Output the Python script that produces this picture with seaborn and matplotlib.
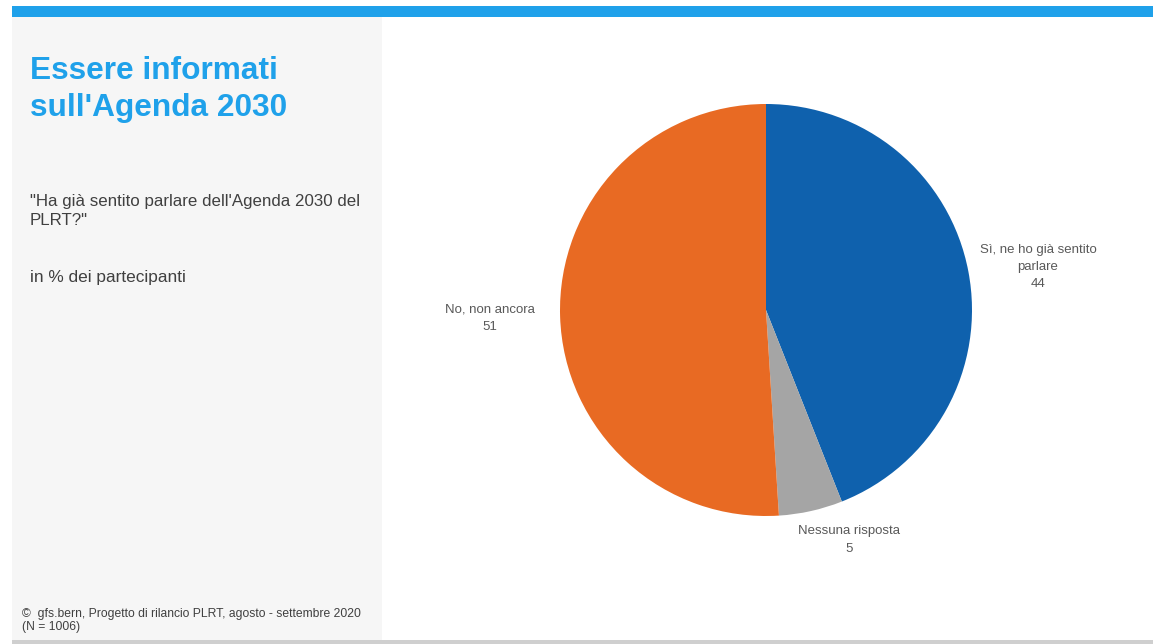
import matplotlib
matplotlib.use("Agg")
import matplotlib.pyplot as plt
import seaborn as sns
from matplotlib.patches import Rectangle

sns.set_theme(style="white")
plt.rcParams['font.family'] = ['Liberation Sans', 'DejaVu Sans']

# Data
categories = ["Sì, ne ho già sentito\nparlare", "Nessuna risposta", "No, non ancora"]
values = [44, 5, 51]
colors = ["#0F61AD", "#A5A5A5", "#E86A23"]
label_pos = [(1.320, 0.209), (0.403, -1.117), (-1.340, -0.039)]

title = "Essere informati\nsull'Agenda 2030"
question = "\"Ha già sentito parlare dell'Agenda 2030 del\nPLRT?\""
unit = "in % dei partecipanti"
footer = "©  gfs.bern, Progetto di rilancio PLRT, agosto - settembre 2020\n(N = 1006)"

W, H = 1153, 644
fig = plt.figure(figsize=(W / 100, H / 100), dpi=100)
fig.patch.set_facecolor("white")

def fx(px):
    return px / W

def fy(py):
    return 1 - py / H

# background panels
fig.patches.append(Rectangle((fx(12), fy(640)), fx(382 - 12), (640 - 16) / H, transform=fig.transFigure,
                             color="#F6F6F6", zorder=0, linewidth=0))
fig.patches.append(Rectangle((fx(12), fy(17)), fx(1153 - 12), 11 / H, transform=fig.transFigure,
                             color="#1FA1EA", zorder=1, linewidth=0))
fig.patches.append(Rectangle((fx(12), 0), fx(1153 - 12), 4 / H, transform=fig.transFigure,
                             color="#CFCFCF", zorder=0, linewidth=0))

# texts
fig.text(fx(30), fy(56), title, fontsize=22.8, fontweight="bold", color="#1FA1EA",
         va="top", ha="left", linespacing=1.3)
fig.text(fx(30), fy(194), question, fontsize=12.2, color="#404040", va="top", ha="left",
         linespacing=1.3)
fig.text(fx(30), fy(270), unit, fontsize=12.4, color="#404040", va="top", ha="left")
fig.text(fx(22), fy(608), footer, fontsize=8.7, color="#404040", va="top", ha="left",
         linespacing=1.1)

# pie
cx, cy, r = 766, 310, 206
ax = fig.add_axes([fx(cx - r), fy(cy + r), 2 * r / W, 2 * r / H])
wedges, _ = ax.pie(values, colors=colors, startangle=90, counterclock=False, radius=1,
                   wedgeprops=dict(linewidth=0))
for lab, v, (px, py) in zip(categories, values, label_pos):
    ax.text(px, py, f"{lab}\n{v}", ha="center", va="center",
            fontsize=9.5, color="#595959", linespacing=1.6)
ax.set_xlim(-1, 1)
ax.set_ylim(-1, 1)
ax.set_aspect("equal")
ax.axis("off")

fig.savefig("out.png", dpi=100, facecolor="white")
